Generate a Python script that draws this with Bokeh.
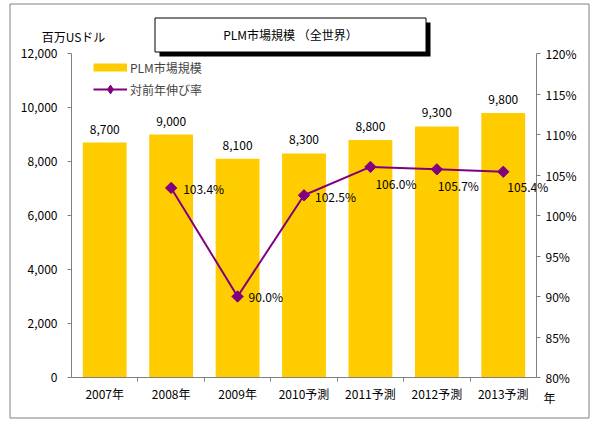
import numpy as np
from bokeh.plotting import figure
from bokeh.models import (Range1d, LinearAxis, FixedTicker, Label,
                          Legend, LegendItem, ColumnDataSource, NumeralTickFormatter,
                          CustomJSTickFormatter, PrintfTickFormatter)
from bokeh.embed import file_html
from bokeh.resources import INLINE

# ---- data ----
categories = ["2007年", "2008年", "2009年", "2010予測", "2011予測", "2012予測", "2013予測"]
market = [8700, 9000, 8100, 8300, 8800, 9300, 9800]
growth = [None, 103.4, 90.0, 102.5, 106.0, 105.7, 105.4]
left_ticks = [0, 2000, 4000, 6000, 8000, 10000, 12000]
right_ticks = [80, 85, 90, 95, 100, 105, 110, 115, 120]
title_text = "PLM市場規模 （全世界）"
y_unit_text = "百万USドル"
x_unit_text = "年"
bar_name = "PLM市場規模"
line_name = "対前年伸び率"

# label offsets (style, screen px)
lbl_dx = [0, 12, 11, 11, 5, 1, 4]
lbl_dy = [0, 1, 0, 1, 17, 16, 15]

FONT = "Noto Sans CJK JP"
BAR = "#FFCC00"
PURPLE = "#800080"
GRAY = "#808080"
W, H = 598, 425
# plot-area box on the canvas (pixels from left / top)
PL, PR, PT, PB = 71, 536, 53, 377

n = len(categories)
xc = np.arange(n) + 0.5


def xr(v0, v1):
    s = (v1 - v0) / (PR - PL)
    return Range1d(v0 - PL * s, v0 + (W - PL) * s)


def yr(v0, v1):
    s = (v1 - v0) / (PB - PT)
    return Range1d(v0 - (H - PB) * s, v1 + PT * s)


bar_src = ColumnDataSource(dict(
    x=xc, top=market, label=[f"{v:,}" for v in market]))

g = np.array([np.nan if v is None else v for v in growth], dtype=float)
gi = ~np.isnan(g)
line_src = ColumnDataSource(dict(
    x=xc[gi], y=g[gi], label=[f"{v:.1f}%" for v in g[gi]],
    dx=np.array(lbl_dx)[gi], dy=np.array(lbl_dy)[gi]))

# frame covers whole canvas; default ranges are canvas pixels (y from top)
p = figure(width=W, height=H, output_backend="svg", toolbar_location=None,
           x_range=Range1d(0, W), y_range=Range1d(H, 0),
           x_axis_type=None, y_axis_type=None,
           min_border_left=0, min_border_right=0, min_border_top=0,
           min_border_bottom=0)
p.extra_x_ranges = {"cx": xr(0, n)}
p.extra_y_ranges = {"mkt": yr(left_ticks[0], left_ticks[-1]),
                    "pct": yr(right_ticks[0], right_ticks[-1])}
p.outline_line_color = None
p.background_fill_color = "white"
p.border_fill_color = "white"

# decorations: outer border, title box with shadow
p.quad(left=[9.5], right=[588.5], top=[3.5], bottom=[417.5],
       fill_color=None, line_color=GRAY, line_width=1)
p.quad(left=[159], right=[430], top=[22], bottom=[56],
       fill_color="black", line_color=None)
p.quad(left=[154.5], right=[425.5], top=[17.5], bottom=[51.5],
       fill_color="white", line_color="black", line_width=1)
for x, y, t in [(290, 34, title_text), (73, 36, y_unit_text), (549, 397, x_unit_text)]:
    p.add_layout(Label(x=x, y=y, text=t, text_align="center", text_baseline="middle",
                       text_font=FONT, text_font_size="12px", text_color="black"))

# axes at fixed locations
xa = LinearAxis(x_range_name="cx", y_range_name="mkt", fixed_location=left_ticks[0],
                bounds=(0, n),
                ticker=FixedTicker(ticks=list(xc), minor_ticks=list(range(1, n))),
                formatter=CustomJSTickFormatter(
                    args=dict(labels=categories),
                    code="return labels[Math.round(tick - 0.5)];"))
xa.major_tick_out = 0
xa.major_tick_in = 0
xa.minor_tick_out = 4
xa.minor_tick_in = 0
xa.minor_tick_line_color = GRAY
xa.axis_line_color = GRAY
xa.major_label_standoff = 3
xa.major_label_text_font = FONT
xa.major_label_text_font_size = "12px"
xa.major_label_text_color = "black"
p.add_layout(xa, "below")

ya = LinearAxis(x_range_name="cx", y_range_name="mkt", fixed_location=0,
                bounds=(left_ticks[0], left_ticks[-1]),
                ticker=FixedTicker(ticks=left_ticks),
                formatter=NumeralTickFormatter(format="0,0"))
ya.major_tick_out = 4
ya.major_tick_in = 0
ya.minor_tick_out = 0
ya.minor_tick_in = 0
ya.major_tick_line_color = GRAY
ya.axis_line_color = GRAY
ya.major_label_standoff = 10
ya.major_label_text_font = FONT
ya.major_label_text_font_size = "12px"
ya.major_label_text_color = "black"
p.add_layout(ya, "left")

ra = LinearAxis(x_range_name="cx", y_range_name="pct", fixed_location=n,
                bounds=(right_ticks[0], right_ticks[-1]),
                ticker=FixedTicker(ticks=right_ticks),
                formatter=PrintfTickFormatter(format="%d%%"))
ra.major_tick_out = 4
ra.major_tick_in = 0
ra.minor_tick_out = 0
ra.minor_tick_in = 0
ra.major_tick_line_color = GRAY
ra.axis_line_color = GRAY
ra.major_label_standoff = 5
ra.major_label_text_font = FONT
ra.major_label_text_font_size = "12px"
ra.major_label_text_color = "black"
p.add_layout(ra, "right")

# bars
p.vbar(x="x", top="top", width=0.66, source=bar_src, x_range_name="cx",
       y_range_name="mkt", fill_color=BAR, line_color=None)
p.text(x="x", y="top", text="label", source=bar_src, x_range_name="cx",
       y_range_name="mkt", text_align="center", text_baseline="bottom", y_offset=-9,
       text_font={"value": FONT}, text_font_size="12px", text_color="black")

# growth line
lr = p.line(x="x", y="y", source=line_src, x_range_name="cx", y_range_name="pct",
            line_color=PURPLE, line_width=2)
p.scatter(x="x", y="y", source=line_src, x_range_name="cx", y_range_name="pct",
          marker="square", angle=np.pi / 4, size=8, fill_color=PURPLE,
          line_color=PURPLE)
p.text(x="x", y="y", text="label", source=line_src, x_range_name="cx",
       y_range_name="pct", x_offset="dx", y_offset="dy", text_align="left",
       text_baseline="middle", text_font={"value": FONT}, text_font_size="12px",
       text_color="black")

# legend swatches (no visible data)
nan_src = ColumnDataSource(dict(x=[np.nan], y=[np.nan]))
bar_swatch = p.line(x="x", y="y", source=nan_src, line_color=BAR, line_width=8)
mk_swatch = p.scatter(x="x", y="y", source=nan_src, marker="diamond", size=10,
                      fill_color=PURPLE, line_color=PURPLE)
legend = Legend(items=[LegendItem(label=bar_name, renderers=[bar_swatch]),
                       LegendItem(label=line_name, renderers=[lr, mk_swatch])],
                location=(83, 315), orientation="vertical",
                glyph_width=34, glyph_height=22, label_height=22, spacing=0,
                padding=10, margin=0, label_standoff=3,
                label_text_font=FONT, label_text_font_size="12px",
                background_fill_alpha=0, border_line_alpha=0)
p.add_layout(legend)

open("out.html", "w").write(file_html(p, INLINE))
